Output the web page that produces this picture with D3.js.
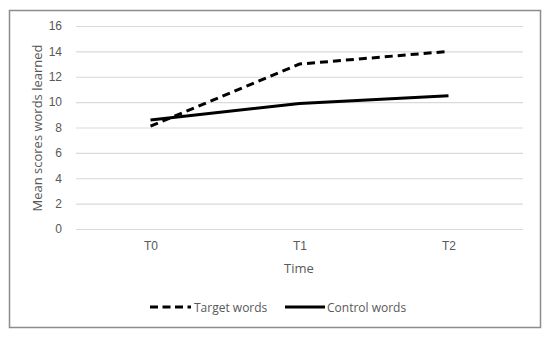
<!DOCTYPE html>
<html><head><meta charset="utf-8">
<script src="https://cdn.jsdelivr.net/npm/d3@7"></script>
<style>body{margin:0;background:#fff;}svg{display:block;font-family:"Open Sans",Lato,sans-serif;}</style>
</head><body><svg id="c" width="550" height="337"></svg>
<script>
const categories = ["T0","T1","T2"];
const targetWords = [8.1, 13.0, 14.0];
const controlWords = [8.6, 9.9, 10.5];
const yTicks = [0,2,4,6,8,10,12,14,16];
const seriesNames = ["Target words","Control words"];

const svg = d3.select("#c");
svg.append("rect").attr("x",9.5).attr("y",10.5).attr("width",531).attr("height",317)
  .attr("fill","#fff").attr("stroke","#8c8c8c").attr("stroke-width",1.5);

const x = d3.scalePoint().domain(categories).range([76,523]).padding(0.5);
const y = d3.scaleLinear().domain([0,16]).range([229,26]);

const gy = svg.append("g").attr("transform","translate(76,0)")
  .call(d3.axisLeft(y).tickValues(yTicks).tickSize(-447).tickPadding(14));
gy.select(".domain").remove();
gy.selectAll(".tick line").attr("stroke","#d9d9d9").attr("stroke-width",1.2);
gy.selectAll(".tick text").attr("fill","#595959").attr("font-size",12);

const gx = svg.append("g").attr("transform","translate(0,229)")
  .call(d3.axisBottom(x).tickSize(0).tickPadding(12));
gx.select(".domain").remove();
gx.selectAll(".tick text").attr("fill","#595959").attr("font-size",12);

svg.append("text").attr("x",299).attr("y",273).attr("text-anchor","middle")
  .attr("fill","#595959").attr("font-size",13).text("Time");
svg.append("text").attr("transform","translate(42,128) rotate(-90)").attr("text-anchor","middle")
  .attr("fill","#595959").attr("font-size",13).text("Mean scores words learned");

const line = d3.line().x((d,i)=>x(categories[i])).y(d=>y(d));
svg.append("path").datum(controlWords).attr("d",line).attr("fill","none")
  .attr("stroke","#000").attr("stroke-width",3);
svg.append("path").datum(targetWords).attr("d",line).attr("fill","none")
  .attr("stroke","#000").attr("stroke-width",3).attr("stroke-dasharray","8,5");

// legend
const lg = svg.append("g");
lg.append("line").attr("x1",150).attr("x2",191).attr("y1",307).attr("y2",307)
  .attr("stroke","#000").attr("stroke-width",3).attr("stroke-dasharray","8,4.5");
lg.append("text").attr("x",194).attr("y",311.5).attr("fill","#595959").attr("font-size",12).text(seriesNames[0]);
lg.append("line").attr("x1",285).attr("x2",325).attr("y1",307).attr("y2",307)
  .attr("stroke","#000").attr("stroke-width",3);
lg.append("text").attr("x",327).attr("y",311.5).attr("fill","#595959").attr("font-size",12).text(seriesNames[1]);
</script></body></html>
